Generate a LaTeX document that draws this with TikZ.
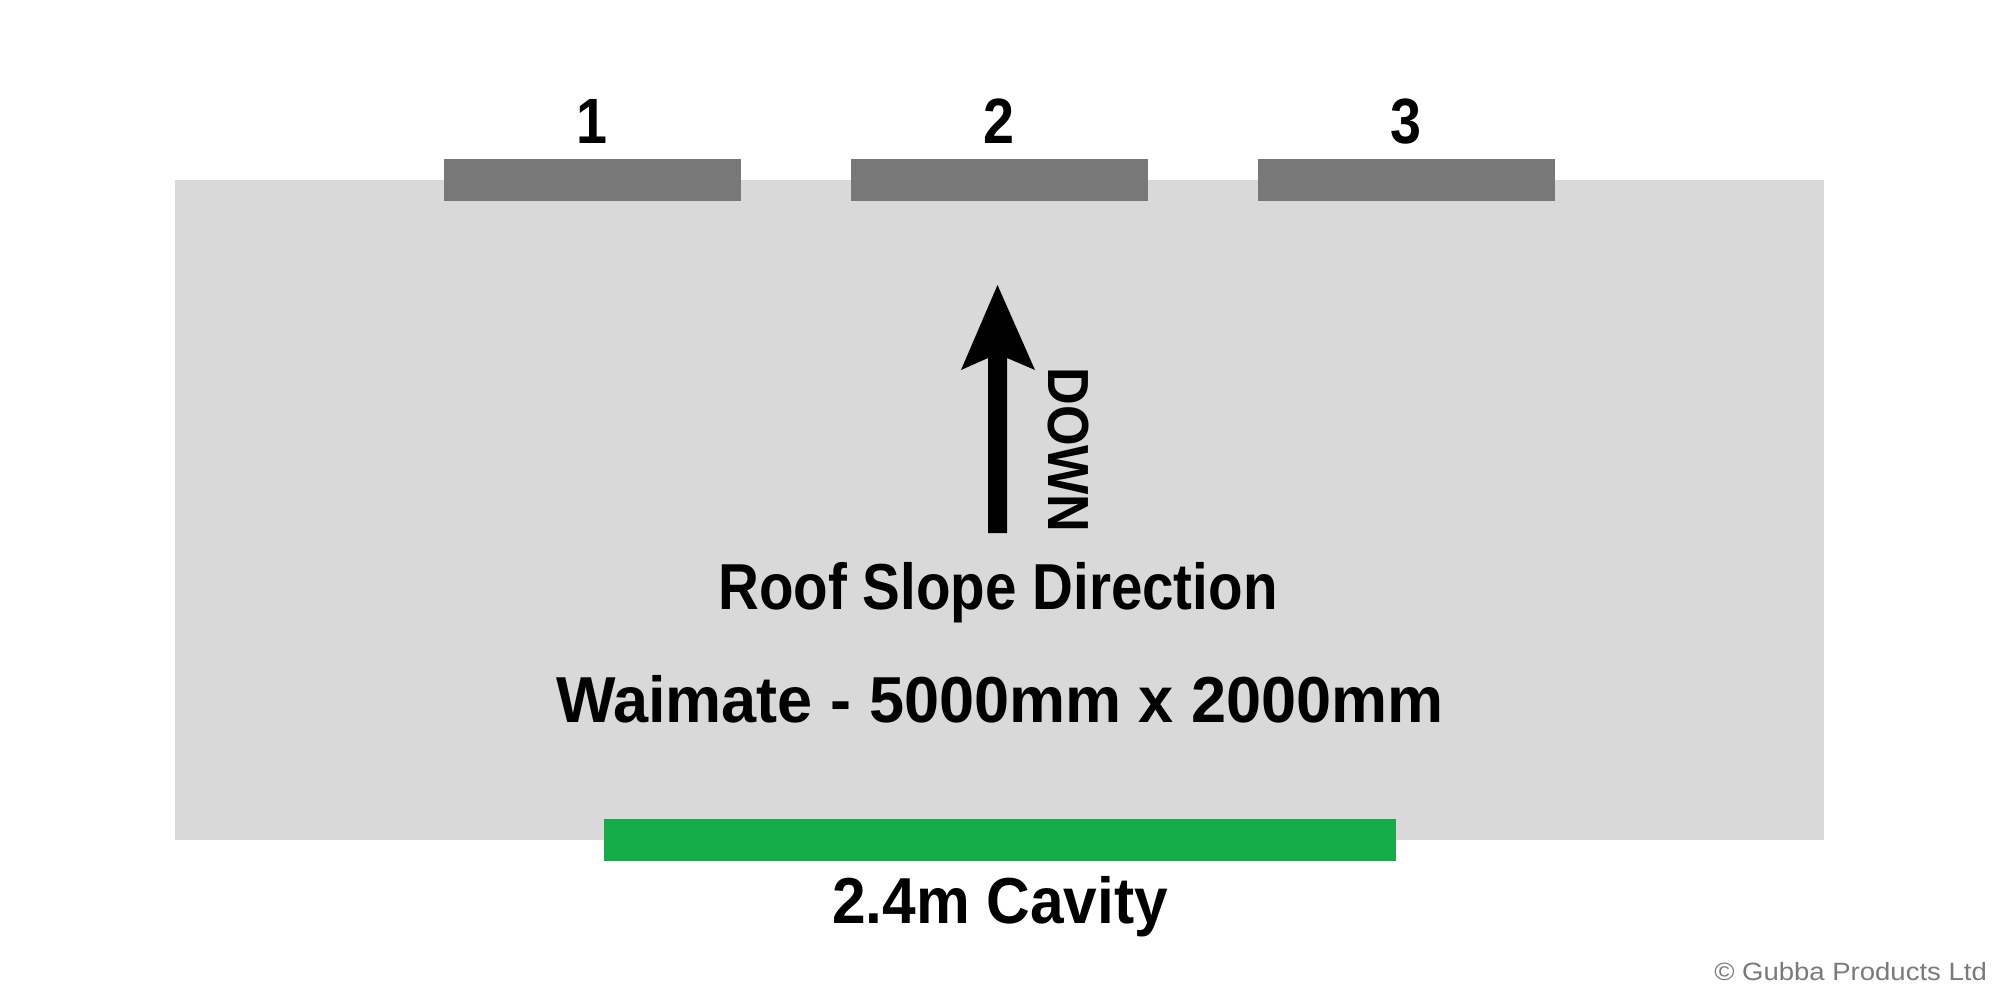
\documentclass[tikz,border=0pt]{standalone}
\usepackage{fontspec}
\setmainfont{Liberation Sans}
\newfontfamily\labfont[FakeStretch=0.87]{Liberation Sans}
\newfontfamily\widefont[FakeStretch=0.97]{Liberation Sans}
\newfontfamily\cavfont[FakeStretch=0.93]{Liberation Sans}
\newfontfamily\downfont[FakeStretch=0.9]{Liberation Sans}
\newfontfamily\copyfont[FakeStretch=1.1]{Liberation Sans}
\definecolor{slab}{HTML}{D9D9D9}
\definecolor{bar}{HTML}{787878}
\definecolor{cav}{HTML}{14AD4A}
\definecolor{copy}{HTML}{7A7A7A}
\begin{document}
\begin{tikzpicture}[x=1pt,y=-1pt,
  lab/.style={inner sep=0pt, anchor=base, font=\labfont\bfseries\fontsize{65}{70}\selectfont},
  numlab/.style={inner sep=0pt, anchor=base, font=\labfont\bfseries\fontsize{64}{70}\selectfont}]
\useasboundingbox (0,0) rectangle (2000,1000);
\fill[white] (0,0) rectangle (2000,1000);
% slab
\fill[slab] (175,180) rectangle (1824,840);
% top bars
\fill[bar] (444,159) rectangle (741,201);
\fill[bar] (851,159) rectangle (1148,201);
\fill[bar] (1258,159) rectangle (1555,201);
\node[numlab] (n1) at (592,144) {1};
\node[numlab] (n2) at (999,144) {2};
\node[numlab] (n3) at (1406,144) {3};
% arrow
\fill[black] (997.5,285) -- (1035,370) -- (1007,358) -- (1007,533) -- (988,533)
  -- (988,358) -- (961,370) -- cycle;
\node[inner sep=0pt, rotate=-90, font=\downfont\bfseries\fontsize{58}{60}\selectfont] (down) at (1068,450) {DOWN};
% texts
\node[lab] (roof) at (998,609) {Roof Slope Direction};
\node[lab, font=\widefont\bfseries\fontsize{65}{70}\selectfont] (size) at (1000,722) {Waimate - 5000mm x 2000mm};
% cavity
\fill[cav] (604,819) rectangle (1396,861);
\node[lab, font=\cavfont\bfseries\fontsize{65}{70}\selectfont] (cavity) at (1000,923) {2.4m Cavity};
% copyright
\node[inner sep=0pt, anchor=base east, text=copy, font=\copyfont\fontsize{25}{27}\selectfont] (copy) at (1987,980) {© Gubba Products Ltd};
\end{tikzpicture}
\end{document}
